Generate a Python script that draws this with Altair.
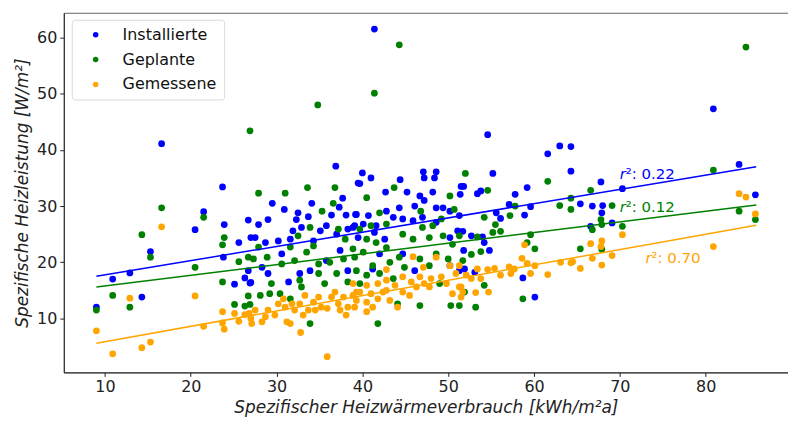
import altair as alt
import pandas as pd

series_names = ["Installierte", "Geplante", "Gemessene"]
series_colors = ["#0000ff", "#008000", "#ffa500"]

inst_pts = [
    (16.6, 41.1), (23.7, 33.4), (21.5, 29.0), (20.5, 25.8), (23.9, 26.7), (26.7, 27.5), (27.0, 24.4),
    (25.6, 23.5), (15.3, 21.9), (23.8, 20.9), (12.9, 18.1), (10.9, 17.0), (14.3, 13.8), (9.0, 12.0),
    (25.1, 16.1), (26.3, 17.2), (26.9, 16.3), (26.7, 18.5),
    (36.9, 37.1), (39.5, 34.1), (29.5, 30.5), (30.9, 29.4), (29.0, 27.6), (32.5, 28.8), (34.1, 30.5),
    (32.3, 27.6), (33.7, 28.1), (37.7, 31.4), (37.3, 29.8), (36.4, 28.4), (38.1, 28.4), (39.2, 28.5),
    (27.9, 26.7), (27.5, 24.4), (28.7, 23.5), (30.2, 23.8), (31.6, 24.1), (31.9, 25.6), (32.9, 26.2),
    (35.1, 25.6), (35.8, 26.5), (37.0, 25.0), (38.3, 25.9), (39.1, 26.5), (34.3, 23.8), (30.6, 21.5),
    (28.3, 19.1), (29.0, 18.0), (31.4, 16.5), (27.0, 16.4), (33.9, 18.5), (35.8, 20.3), (37.4, 22.1),
    (38.3, 18.5), (32.7, 18.0),
    (40.0, 35.9), (41.0, 35.0), (39.7, 34.0), (44.4, 34.7), (47.1, 36.1), (48.6, 36.1), (48.4, 35.0),
    (47.2, 35.0), (42.7, 32.5), (45.2, 32.5), (48.2, 32.5), (46.7, 31.8), (47.2, 31.0), (51.5, 33.5),
    (44.3, 29.7), (46.1, 30.0), (48.6, 29.7), (49.4, 29.7), (39.3, 28.5), (40.7, 28.3), (42.8, 29.1),
    (43.6, 28.0), (44.7, 27.7), (45.9, 27.4), (47.0, 28.0), (50.2, 29.1), (51.3, 28.3), (40.1, 26.8),
    (41.6, 26.5), (48.6, 27.1), (38.9, 26.2), (41.4, 25.3), (39.5, 24.4), (42.6, 24.1), (51.1, 25.6),
    (50.2, 24.4), (42.0, 21.5), (44.7, 21.5), (41.2, 18.8), (46.1, 18.5), (51.3, 18.5), (50.2, 19.4),
    (54.6, 42.7), (61.6, 39.3), (63.0, 40.7), (64.3, 40.6), (64.3, 36.2), (55.2, 35.8), (51.8, 33.5),
    (51.4, 32.1), (53.4, 32.2), (53.8, 32.7), (57.8, 32.1), (59.2, 33.3), (57.1, 30.3), (59.6, 29.9),
    (55.6, 28.8), (56.1, 27.8), (58.9, 28.4), (51.7, 25.5), (52.7, 24.7), (54.0, 24.5), (54.2, 23.5),
    (54.8, 22.1), (51.8, 22.1), (51.9, 18.8), (53.1, 18.2), (58.7, 17.2), (60.1, 13.8),
    (80.9, 47.3), (83.9, 37.4), (85.8, 32.0), (70.3, 33.1), (67.8, 34.3), (65.4, 30.4), (66.8, 30.0),
    (68.0, 30.1), (67.9, 28.8), (66.6, 26.4), (69.1, 27.0),
    (41.4, 61.5),
]

plan_pts = [
    (26.9, 43.4), (16.6, 29.7), (21.5, 28.0), (14.3, 24.9), (23.9, 24.4), (23.7, 23.1), (15.3, 20.9),
    (25.6, 20.1), (26.7, 20.9), (20.5, 19.1), (23.7, 16.5), (10.9, 14.1), (12.9, 12.0), (9.0, 11.5),
    (25.1, 12.5), (26.3, 12.2), (26.7, 14.0), (26.9, 12.5),
    (27.9, 32.3), (31.0, 32.3), (33.6, 33.3), (36.8, 33.3), (36.6, 30.5), (35.3, 29.1), (37.2, 25.9),
    (38.0, 24.1), (32.5, 24.7), (34.3, 22.9), (31.6, 22.7), (27.9, 22.7), (28.9, 20.9), (30.6, 19.7),
    (32.1, 20.3), (33.5, 21.8), (34.9, 19.7), (36.2, 20.0), (37.8, 20.6), (39.1, 20.9), (27.3, 20.6),
    (29.4, 16.2), (32.7, 16.8), (35.6, 16.2), (37.0, 18.0), (38.3, 16.5), (34.9, 18.0), (29.2, 14.4),
    (28.1, 14.1), (30.4, 14.4), (33.9, 9.1), (31.6, 13.5), (32.9, 15.6), (33.9, 26.2),
    (43.7, 33.3), (40.5, 31.5), (50.2, 31.8), (50.7, 29.4), (42.0, 28.8), (46.8, 29.1), (48.2, 26.5),
    (49.2, 27.7), (39.7, 25.9), (41.0, 26.5), (42.8, 26.8), (44.7, 25.0), (47.0, 26.2), (40.5, 24.1),
    (41.6, 23.5), (45.9, 24.1), (47.8, 24.4), (49.4, 24.7), (50.5, 23.2), (38.9, 22.4), (40.1, 21.8),
    (42.8, 22.6), (44.3, 20.9), (46.7, 20.6), (48.6, 21.5), (50.0, 20.6), (39.3, 18.5), (41.2, 19.4),
    (43.2, 20.0), (44.9, 19.1), (47.8, 19.4), (40.5, 17.7), (42.0, 18.0), (39.7, 16.2), (43.6, 17.1),
    (49.0, 16.2), (46.7, 12.3), (50.3, 12.3), (51.3, 12.3), (41.8, 9.1), (44.1, 12.6),
    (52.0, 35.8), (54.6, 32.8), (61.6, 34.4), (57.8, 30.0), (63.0, 30.1), (64.3, 29.4), (64.3, 31.4),
    (54.2, 28.0), (57.2, 28.3), (55.5, 26.7), (55.2, 25.3), (56.1, 25.5), (51.3, 24.7), (53.4, 24.5),
    (59.6, 24.9), (59.2, 23.5), (60.1, 22.4), (52.7, 21.4), (53.8, 21.9), (51.7, 20.3), (54.2, 15.9),
    (58.7, 13.5), (53.2, 12.0), (51.9, 14.7),
    (84.7, 58.3), (80.9, 36.4), (83.9, 29.1), (85.8, 27.6), (69.1, 30.1), (66.6, 32.8), (67.8, 27.6),
    (67.9, 26.7), (66.8, 25.8), (70.3, 26.4), (65.4, 22.4), (67.9, 22.3),
    (44.3, 58.7), (41.4, 50.1), (34.8, 48.0),
]

meas_pts = [
    (16.6, 26.3), (20.5, 14.0), (12.9, 13.6), (9.0, 7.8), (10.9, 3.7), (14.3, 4.8), (15.3, 5.8),
    (21.5, 8.6), (23.7, 11.2), (23.7, 9.2), (23.9, 8.1), (25.1, 10.9), (25.6, 9.5), (26.3, 10.7),
    (26.8, 10.9), (27.0, 10.0),
    (35.9, 3.2), (32.8, 7.5), (27.5, 11.5), (28.3, 9.4), (29.0, 11.5), (29.8, 10.6), (30.8, 13.5),
    (31.0, 12.0), (31.2, 9.4), (31.6, 9.1), (32.1, 11.5), (32.7, 12.6), (33.3, 14.1), (33.7, 11.5),
    (34.3, 12.9), (34.9, 13.8), (35.2, 12.0), (35.9, 11.8), (36.4, 13.8), (36.8, 14.7), (37.2, 12.6),
    (37.8, 13.8), (38.1, 10.6), (38.3, 12.0), (38.9, 14.1), (39.3, 14.7), (30.2, 12.6), (28.7, 10.3),
    (27.1, 9.1), (31.8, 12.6), (34.5, 11.5), (33.1, 10.6), (37.4, 11.5),
    (45.9, 21.0), (48.6, 20.9), (47.1, 19.1), (42.8, 18.7), (44.7, 17.4), (38.9, 16.2), (40.5, 15.9),
    (41.8, 16.2), (42.8, 16.8), (43.8, 15.9), (45.7, 16.5), (46.7, 17.4), (48.0, 17.1), (49.2, 17.4),
    (50.2, 19.4), (50.9, 18.0), (39.7, 14.7), (41.0, 14.4), (42.4, 14.7), (44.7, 14.7), (46.3, 15.6),
    (47.8, 15.6), (49.8, 16.2), (51.3, 15.6), (39.3, 13.2), (40.5, 12.9), (41.8, 13.5), (43.2, 13.2),
    (44.1, 12.0), (45.5, 14.1), (50.5, 14.4), (40.5, 11.2), (39.1, 12.0), (41.2, 12.0), (42.8, 15.0),
    (47.2, 16.2),
    (58.9, 23.1), (58.6, 20.7), (59.2, 19.8), (60.1, 19.4), (63.1, 20.0), (64.3, 19.9), (57.1, 19.2),
    (57.7, 18.8), (55.4, 18.9), (54.6, 18.7), (53.4, 18.8), (51.3, 19.4), (57.3, 18.0), (56.1, 17.7),
    (59.6, 18.0), (61.6, 17.8), (52.1, 17.7), (52.7, 17.1), (53.8, 17.1), (51.5, 15.6), (51.7, 14.7),
    (53.2, 14.6), (54.7, 14.7), (51.5, 13.8),
    (83.9, 32.2), (84.7, 31.6), (85.8, 28.6), (80.9, 22.8), (70.3, 24.9), (67.9, 23.8), (66.6, 23.3),
    (67.8, 22.8), (69.1, 21.2), (66.8, 20.7), (65.4, 18.9), (67.9, 19.5), (64.5, 20.1),
]

# regression line end points
fit_x = [9.0, 85.9]
inst_fit = [17.5, 37.0]
plan_fit = [15.6, 30.2]
meas_fit = [5.6, 26.6]

# r^2 annotations
r2_values = ["0.22", "0.12", "0.70"]
r2_x = [70.0, 70.0, 73.0]
r2_y = [34.8, 28.9, 19.9]

x_ticks = [10, 20, 30, 40, 50, 60, 70, 80]
y_ticks = [10, 20, 30, 40, 50, 60]
x_domain = [5.2, 89.6]
y_domain = [0.4, 64.4]

FONT = "DejaVu Sans"
INK = "#222222"

rows = []
for name, pts in zip(series_names, [inst_pts, plan_pts, meas_pts]):
    for px, py in pts:
        rows.append({"x": px, "y": py, "series": name})
points_df = pd.DataFrame(rows)

x_enc = alt.X(
    "x:Q",
    scale=alt.Scale(domain=x_domain, nice=False, zero=False),
    axis=alt.Axis(
        values=x_ticks, grid=False, labelFontSize=16, labelFont=FONT, labelColor=INK,
        tickColor=INK, tickSize=4, domainColor=INK, labelPadding=2,
        title="Spezifischer Heizwärmeverbrauch [kWh/m²a]", titleFont=FONT,
        titleFontStyle="italic", titleFontWeight="normal", titleFontSize=17,
        titleColor=INK, titlePadding=5,
    ),
)
y_enc = alt.Y(
    "y:Q",
    scale=alt.Scale(domain=y_domain, nice=False, zero=False),
    axis=alt.Axis(
        values=y_ticks, grid=False, labelFontSize=16, labelFont=FONT, labelColor=INK,
        tickColor=INK, tickSize=4, domainColor=INK, labelPadding=3,
        title="Spezifische Heizleistung [W/m²]", titleFont=FONT,
        titleFontStyle="italic", titleFontWeight="normal", titleFontSize=17,
        titleColor=INK, titlePadding=5,
    ),
)

points = alt.Chart(points_df).mark_circle(size=46, opacity=1).encode(
    x=x_enc,
    y=y_enc,
    color=alt.Color(
        "series:N",
        scale=alt.Scale(domain=series_names, range=series_colors),
        legend=alt.Legend(
            title=None, orient="none", legendX=8, legendY=7,
            labelFontSize=16, labelFont=FONT, labelColor="#111111",
            symbolType="circle", symbolSize=30, symbolStrokeWidth=0,
            padding=7, symbolOffset=9, labelOffset=19, rowPadding=9,
            strokeColor="#d9d9d9", fillColor="white", cornerRadius=3,
        ),
    ),
)

layers = [points]
for fit, col in zip([inst_fit, plan_fit, meas_fit], series_colors):
    ldf = pd.DataFrame({"x": fit_x, "y": fit})
    layers.append(
        alt.Chart(ldf).mark_line(strokeWidth=1.5, color=col).encode(x=x_enc, y=y_enc)
    )

for val, tx, ty, col in zip(r2_values, r2_x, r2_y, series_colors):
    tdf = pd.DataFrame({"x": [tx], "y": [ty], "r": ["r"], "rest": ["²: " + val]})
    layers.append(
        alt.Chart(tdf).mark_text(
            align="left", baseline="alphabetic", font=FONT, fontSize=15,
            fontStyle="italic", color=col,
        ).encode(x=x_enc, y=y_enc, text="r:N")
    )
    layers.append(
        alt.Chart(tdf).mark_text(
            align="left", baseline="alphabetic", font=FONT, fontSize=15,
            color=col, dx=6,
        ).encode(x=x_enc, y=y_enc, text="rest:N")
    )

chart = alt.layer(*layers).properties(
    width=727,
    height=361,
    padding={"left": 56, "top": 4, "right": 0, "bottom": 48},
    autosize=alt.AutoSizeParams(type="none"),
).configure_view(stroke="#666666", strokeWidth=1)

chart.save("out.html", embed_options={"renderer": "svg", "actions": False})
